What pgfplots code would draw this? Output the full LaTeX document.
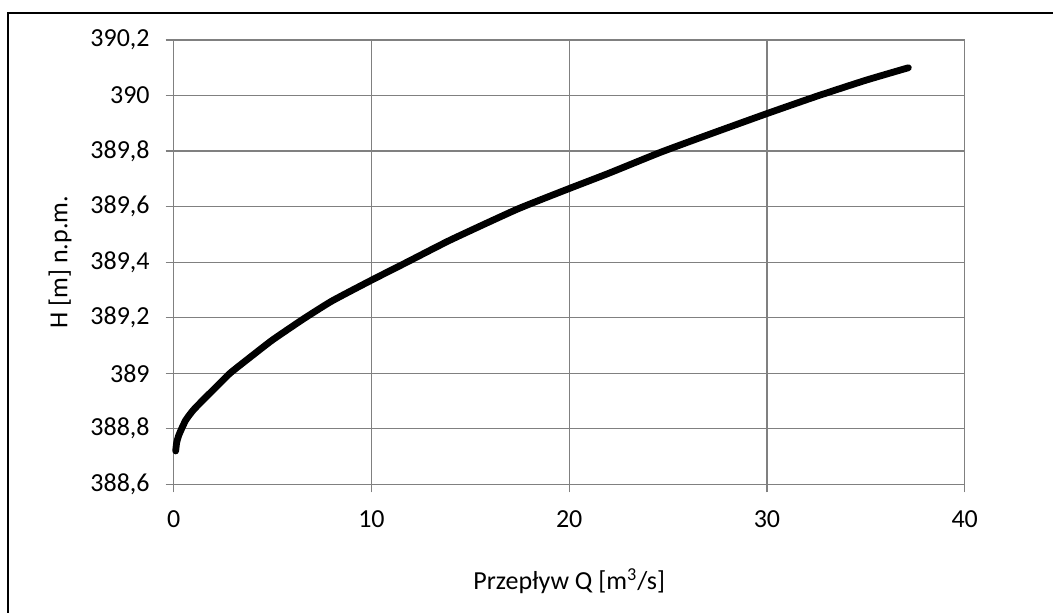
\documentclass[border=0pt]{standalone}
\usepackage{fontspec}
\setmainfont{Carlito}
\usepackage{pgfplots}
\pgfplotsset{compat=1.18}

% picture measured in reference pixels: 1 px = 0.5pt
\begin{document}
\fontsize{13}{15}\selectfont
\begin{tikzpicture}
\useasboundingbox (0,0) rectangle (526.5pt,306.5pt);
% chart frame (cropped on the right and at the bottom)
\draw[line width=0.8pt] (4pt,-5pt) -- (4pt,300pt) -- (540pt,300pt);
\begin{axis}[
  at={(86.85pt,64.35pt)}, anchor=south west,
  scale only axis,
  width=395.5pt, height=222.15pt,
  xmin=0, xmax=40, ymin=388.6, ymax=390.2,
  xtick={0,10,...,40},
  ytick={388.6,388.8,...,390.21},
  grid=major,
  major grid style={black!50, line width=0.6pt},
  axis line style={black!50, line width=0.6pt},
  axis x line*=bottom, axis y line*=left,
  tick align=outside,
  major tick length=4pt,
  tick style={black!50, line width=0.6pt},
  scaled y ticks=false,
  /pgf/number format/assume math mode=true,
  /pgf/number format/.cd, use comma, 1000 sep={},
  /pgfplots/.cd,
  tick label style={font=\fontsize{13}{15}\selectfont, text=black},
  xticklabel style={yshift=-4.5pt},
  yticklabel style={xshift=-3.5pt},
  xlabel={Przepływ Q [m\textsuperscript{3}/s]},
  ylabel={H [m] n.p.m.},
  label style={font=\fontsize{13}{15}\selectfont},
  xlabel style={at={(axis description cs:0.5,-0.2176)}, anchor=center},
  ylabel style={at={(axis description cs:-0.1437,0.5)}, anchor=center},
  clip=false,
]
\addplot[black, line width=3.4pt, line cap=round, line join=round, smooth, tension=0.3] coordinates {
  (0.1,388.72) (0.15,388.75) (0.25,388.775) (0.4,388.80) (0.6,388.83)
  (0.8,388.85) (1.0,388.868) (1.5,388.905)
  (2.0,388.94) (2.85,389.00) (4.0,389.065) (5.0,389.12) (6.55,389.195)
  (8.0,389.26) (10.0,389.335) (11.8,389.40) (14.0,389.48) (17.35,389.59)
  (20.0,389.665) (22.0,389.72) (24.6,389.795) (27.0,389.858) (30.0,389.935)
  (32.5,389.997) (35.0,390.055) (37.15,390.10)
};
\end{axis}
\end{tikzpicture}
\end{document}
